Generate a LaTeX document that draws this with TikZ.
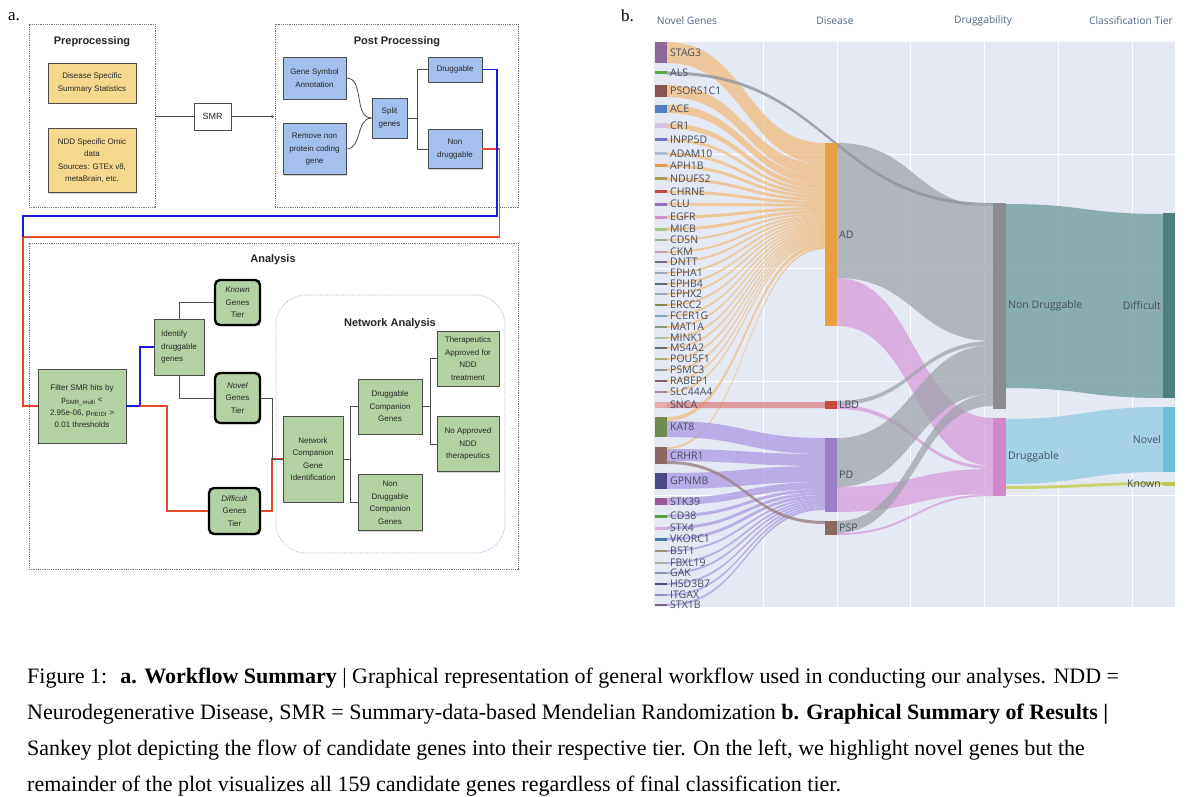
\documentclass[tikz,border=0pt]{standalone}
\usepackage{fontspec}
\setmainfont{Liberation Serif}
\newfontfamily\boxfont{Liberation Sans}
\newfontfamily\plotfont{Open Sans}
\usetikzlibrary{positioning,shadows,arrows.meta}

\definecolor{preyellow}{HTML}{F6D98C}
\definecolor{postblue}{HTML}{A4C0EC}
\definecolor{anagreen}{HTML}{B4D1A4}
\definecolor{linkblue}{HTML}{1A1AE6}
\definecolor{linkred}{HTML}{E8482C}
\definecolor{netdash}{HTML}{A9B9D3}
\definecolor{plotbg}{HTML}{E5E9F4}
\definecolor{plottext}{HTML}{454F5E}
\definecolor{plothead}{HTML}{506784}
\definecolor{adcol}{HTML}{E8A040}
\definecolor{lbdcol}{HTML}{C84A3A}
\definecolor{pdcol}{HTML}{9A7EC8}
\definecolor{pspcol}{HTML}{8A6A60}
\definecolor{ndcol}{HTML}{8C8C90}
\definecolor{dgcol}{HTML}{D088C8}
\definecolor{diffcol}{HTML}{4E7E7E}
\definecolor{novcol}{HTML}{6EC0D8}
\definecolor{knowncol}{HTML}{C0C850}

% sankey band: x0, top0, bottom0, x1, top1, bottom1, style
\newcommand{\sflow}[7]{%
  \fill[#7] (#1,#2) .. controls ({(#1+#4)/2},#2) and ({(#1+#4)/2},#5) .. (#4,#5)
    -- (#4,#6) .. controls ({(#1+#4)/2},#6) and ({(#1+#4)/2},#3) .. (#1,#3) -- cycle;}

\begin{document}
\begin{tikzpicture}[x=1pt,y=-1pt,
  box/.style={draw=black!70,line width=.6pt,align=center,text=black!85,
    font=\boxfont\fontsize{8}{12.5}\selectfont,inner sep=1pt,
    drop shadow={shadow xshift=1.2pt,shadow yshift=-1.4pt,opacity=.35}},
  prebox/.style={box,fill=preyellow,minimum width=88pt},
  postbox/.style={box,fill=postblue},
  anabox/.style={box,fill=anagreen},
  tierbox/.style={anabox,draw=black,line width=2.4pt,rounded corners=5pt},
  dashgroup/.style={draw=black!55,dash pattern=on 1.2pt off 1pt,line width=.7pt},
  netgroup/.style={draw=netdash,dash pattern=on 1pt off 1.3pt,line width=.8pt,rounded corners=30pt},
  grouptitle/.style={font=\boxfont\bfseries\fontsize{11}{13}\selectfont,text=black!85},
  conn/.style={draw=black!70,line width=.8pt},
  drugline/.style={draw=linkblue,line width=1.7pt},
  diffline/.style={draw=linkred,line width=1.7pt},
  paneltag/.style={anchor=base west,inner sep=0pt,font=\fontsize{17}{20}\selectfont},
  captext/.style={anchor=base west,inner sep=0pt,font=\fontsize{22}{26}\selectfont},
  plotgrid/.style={draw=white,line width=.9pt},
  sknode/.style={minimum width=12pt,inner sep=0pt,outer sep=0pt},
  sklabel/.style={font=\plotfont\fontsize{10.5}{11}\selectfont,text=plottext,inner sep=0pt},
  skhead/.style={font=\plotfont\fontsize{10.3}{11}\selectfont,text=plothead},
  adflow/.style={fill={rgb,255:red,240;green,190;blue,128},fill opacity=.75},
  pdflow/.style={fill={rgb,255:red,172;green,152;blue,224},fill opacity=.75},
  ndflow/.style={fill={rgb,255:red,160;green,164;blue,172},fill opacity=.75},
  dgflow/.style={fill={rgb,255:red,212;green,156;blue,216},fill opacity=.75},
  lbdflow/.style={fill={rgb,255:red,216;green,128;blue,128},fill opacity=.75},
  pspflow/.style={fill={rgb,255:red,154;green,128;blue,128},fill opacity=.8},
  alsflow/.style={fill={rgb,255:red,142;green,148;blue,158},fill opacity=.8},
  diffflow/.style={fill={rgb,255:red,122;green,162;blue,162},fill opacity=.85},
  novelflow/.style={fill={rgb,255:red,156;green,207;blue,228},fill opacity=.85},
  knownflow/.style={fill={rgb,255:red,200;green,208;blue,96},fill opacity=.9}]

\useasboundingbox (0,0) rectangle (1200,797);
\fill[white] (0,0) rectangle (1200,797);

%% a. workflow
\node[paneltag] (taga) at (8,21) {a.};

\node[dashgroup,minimum width=126pt,minimum height=183pt] (pre) at (92,115.5) {};
\node[grouptitle] (pretitle) at (92,42) {Preprocessing};
\node[prebox,minimum height=40pt] (dss) at (92,83) {Disease Specific\\Summary Statistics};
\node[prebox,minimum height=64pt,below=25pt of dss] (omic) {NDD Specific Omic\\data\\Sources: GTEx v8,\\metaBrain, etc.};

\node[box,fill=white,minimum width=37pt,minimum height=27pt,font=\boxfont\fontsize{9}{11}\selectfont] (smr) at (212.5,116.5) {SMR};

\node[dashgroup,minimum width=243pt,minimum height=183pt] (post) at (396.5,115.5) {};
\node[grouptitle] (posttitle) at (397,42) {Post Processing};
\node[postbox,minimum width=63pt,minimum height=42pt] (gsa) at (314.5,78) {Gene Symbol\\Annotation};
\node[postbox,minimum width=63pt,minimum height=51pt,below=24pt of gsa] (rmv) {Remove non\\protein coding\\gene};
\node[postbox,minimum width=35pt,minimum height=40pt] (split) at (389.5,118) {Split\\genes};
\node[postbox,minimum width=54pt,minimum height=25pt] (drug) at (455,69.5) {Druggable};
\node[postbox,minimum width=54pt,minimum height=39pt,below=47pt of drug] (nondrug) {Non\\druggable};

\node[dashgroup,minimum width=489pt,minimum height=326pt] (ana) at (273.5,406) {};
\node[grouptitle] (anatitle) at (273,260) {Analysis};
\node[anabox,minimum width=88pt,minimum height=74pt] (filt) at (82,406)
  {Filter SMR hits by\\p\textsubscript{SMR\_multi} <\\2.95e-06, p\textsubscript{HEIDI} >\\0.01 thresholds};
\node[anabox,minimum width=50pt,minimum height=56pt,align=left] (ident) at (179,347) {Identify\\druggable\\genes};
\node[tierbox,minimum width=45pt,minimum height=45pt] (known) at (237.5,302.5) {\textit{Known}\\Genes\\Tier};
\node[tierbox,minimum width=45pt,minimum height=50pt] (novel) at (237.5,398) {\textit{Novel}\\Genes\\Tier};
\node[tierbox,minimum width=51pt,minimum height=46pt] (diff) at (234.5,511) {\textit{Difficult}\\Genes\\Tier};

\node[netgroup,minimum width=229pt,minimum height=258pt] (net) at (390.5,424) {};
\node[grouptitle] (nettitle) at (390,324) {Network Analysis};
\node[anabox,minimum width=60pt,minimum height=86pt] (ncgi) at (313,459) {Network\\Companion\\Gene\\Identification};
\node[anabox,minimum width=64pt,minimum height=55pt] (dcg) at (390,406.5) {Druggable\\Companion\\Genes};
\node[anabox,minimum width=64pt,minimum height=56pt,below=40pt of dcg] (ndcg) {Non\\Druggable\\Companion\\Genes};
\node[anabox,minimum width=62pt,minimum height=55pt] (thera) at (468,358.5) {Therapeutics\\Approved for\\NDD\\treatment};
\node[anabox,minimum width=62pt,minimum height=55pt,below=30pt of thera] (noappr) {No Approved\\NDD\\therapeutics};

\draw[conn] (pre.east |- smr.west) -- (smr.west);
\draw[conn,-{Latex[length=3pt,width=3pt]}] (smr.east) -- (smr.east -| post.west);
\draw[conn] (gsa.east) to[out=0,in=180] (split.west);
\draw[conn] (rmv.east) to[out=0,in=180] (split.west);
\draw[conn] (split.east) -- ++(10,0) |- (drug.west);
\draw[conn] (split.east) -- ++(10,0) |- (nondrug.west);

\draw[diffline] (nondrug.east) -| (499.5,237) -- (23,237) |- (filt.west);
\draw[drugline] (drug.east) -| (497,216) -| (23,237);

\draw[drugline] (filt.east) -- ++(14,0) |- (ident.west);
\draw[diffline] ([xshift=14pt]filt.east) -- ++(27,0) |- (diff.west);
\draw[conn] (ident.north) |- (known.west);
\draw[conn] (ident.south) |- (novel.west);
\draw[diffline] (diff.east) -- ++(11,0) |- (ncgi.west);
\draw[conn] (novel.east) -- ++(11,0) |- (ncgi.west);
\draw[conn] (ncgi.east) -- ++(7,0) |- (dcg.west);
\draw[conn] (ncgi.east) -- ++(7,0) |- (ndcg.west);
\draw[conn] (dcg.east) -- ++(8,0) |- (thera.west);
\draw[conn] (dcg.east) -- ++(8,0) |- (noappr.west);

%% b. sankey
\node[paneltag] (tagb) at (621,22) {b.};
\fill[plotbg] (654,42) rectangle (1175,607);
\foreach \gx in {763,837,910,984,1058,1132}
  \draw[plotgrid] (\gx,42) -- (\gx,607);
\foreach \gy in {154,268,381,495}
  \draw[plotgrid] (654,\gy) -- (1175,\gy);

\node[skhead] (h1) at (687,21) {Novel Genes};
\node[skhead] (h2) at (835,21) {Disease};
\node[skhead] (h3) at (983,21) {Druggability};
\node[skhead] (h4) at (1131,21) {Classification Tier};

% genes into AD
\gdef\adcur{143}
\foreach \y/\h in {52.5/21,91/12,109/8,126/5,140/3,154/3,166/3,179/3,192/3,204/3,217/3,229/3,
    240/2,252/2,262/2,273/2,284/2,294/2,305/2,316/2,327/2,338/2,348/2,359/2,370/2,381/2,392/2,419/4,448/2}{
  \pgfmathsetmacro\adnext{\adcur+\h}
  \sflow{667}{\y-\h/2}{\y+\h/2}{825}{\adcur}{\adnext}{adflow}
  \xdef\adcur{\adnext}
}
% genes into PD
\gdef\pdcur{438}
\foreach \y/\h in {429/16,455/12,481/16,501.5/7,516/3,528/3,539/3,551/2,563/2,573/2,584/2,595/2,605/2}{
  \pgfmathsetmacro\pdnext{\pdcur+\h}
  \sflow{667}{\y-\h/2}{\y+\h/2}{825}{\pdcur}{\pdnext}{pdflow}
  \xdef\pdcur{\pdnext}
}
\sflow{667}{402}{408}{825}{402}{408}{lbdflow}
\sflow{667}{461}{464}{825}{521}{524}{pspflow}

% disease into druggability
\sflow{837}{143}{278}{993}{206}{341}{ndflow}
\sflow{837}{278}{326}{993}{418}{466}{dgflow}
\sflow{837}{401}{405}{993}{341}{345}{ndflow}
\sflow{837}{405}{409}{993}{466}{469}{dgflow}
\sflow{837}{438}{487}{993}{345}{394}{ndflow}
\sflow{837}{487}{512}{993}{469}{494}{dgflow}
\sflow{837}{521}{533}{993}{394}{406}{ndflow}
\sflow{837}{533}{535}{993}{494}{496}{dgflow}
\sflow{667}{71.5}{74.5}{993}{203}{206}{alsflow}

% druggability into tier
\sflow{1006}{204}{388}{1163}{214}{398}{diffflow}
\sflow{1006}{419}{484}{1163}{407}{472}{novelflow}
\sflow{1006}{486}{489}{1163}{482}{485}{knownflow}

\foreach \g/\y/\h/\c in {STAG3/52.5/21/8B6A9A,ALS/73/3/5AAA4A,PSORS1C1/91/12/8A5252,ACE/109/8/4F7FC0,
    CR1/126/5/D6C2E2,INPP5D/140/3/7272C8,ADAM10/154/3/A8BCD8,APH1B/166/3/E09A48,NDUFS2/179/3/A8A050,
    CHRNE/192/3/C04848,CLU/204/3/9070C0,EGFR/217/3/D490CC,MICB/229/3/A8C888,CDSN/240/2/98B098,
    CKM/252/2/C0A0A0,DNTT/262/2/707080,EPHA1/273/2/A0A8B8,EPHB4/284/2/606878,EPHX2/294/2/A0A8B8,
    ERCC2/305/2/888850,FCER1G/316/2/78A8C8,MAT1A/327/2/889878,MINK1/338/2/B0C0A8,MS4A2/348/2/687068,
    POU5F1/359/2/A8B080,PSMC3/370/2/909890,RABEP1/381/2/806070,SLC44A4/392/2/A08898,SNCA/405/6/E8A8B0,
    KAT8/427/20/6E8A4E,CRHR1/455.5/17/8A6A60,GPNMB/481/16/4A4888,STK39/501.5/7/9A5A9A,CD38/516/3/5AA040,
    STX4/528/3/D8B0D8,VKORC1/539/3/4878A8,BST1/551/2/A09078,FBXL19/563/2/A8B0A0,GAK/573/2/8898A8,
    HSD3B7/584/2/505070,ITGAX/595/2/9090B8,STX1B/605/2/806878}{
  \edef\setgenecol{\noexpand\definecolor{genecol}{HTML}{\c}}\setgenecol
  \fill[genecol] (655,\y-\h/2) rectangle (667,\y+\h/2);
  \node[sklabel,anchor=west] (g-\g) at (670,\y) {\g};
}

\node[sknode,fill=adcol,minimum height=183pt] (ad) at (831,234.5) {};
\node[sknode,fill=lbdcol,minimum height=8pt] (lbd) at (831,405) {};
\node[sknode,fill=pdcol,minimum height=74pt] (pd) at (831,475) {};
\node[sknode,fill=pspcol,minimum height=14pt] (psp) at (831,528) {};
\node[sklabel,right=2pt of ad] {AD};
\node[sklabel,right=2pt of lbd] {LBD};
\node[sklabel,right=2pt of pd] {PD};
\node[sklabel,right=2pt of psp] {PSP};

\node[sknode,fill=ndcol,minimum width=13pt,minimum height=206pt] (nd) at (999.5,306) {};
\node[sknode,fill=dgcol,minimum width=13pt,minimum height=78pt] (dg) at (999.5,457) {};
\node[sklabel,right=2pt of nd] {Non Druggable};
\node[sklabel,right=2pt of dg] {Druggable};

\node[sknode,fill=diffcol,minimum height=185pt] (tdiff) at (1169,305.5) {};
\node[sknode,fill=novcol,minimum height=65pt] (tnovel) at (1169,439.5) {};
\node[sknode,fill=knowncol,minimum height=4pt] (tknown) at (1169,484) {};
\node[sklabel,left=2pt of tdiff] {Difficult};
\node[sklabel,left=2pt of tnovel] {Novel};
\node[sklabel,left=2pt of tknown] {Known};

%% caption
\node[captext] (cap1) at (27,683) {Figure 1:\hspace{0.6em}\textbf{a. Workflow Summary} | Graphical representation of general workflow used in conducting our analyses. NDD =};
\node[captext] (cap2) at (27,719) {Neurodegenerative Disease, SMR = Summary-data-based Mendelian Randomization \textbf{b. Graphical Summary of Results |}};
\node[captext] (cap3) at (27,755) {Sankey plot depicting the flow of candidate genes into their respective tier. On the left, we highlight novel genes but the};
\node[captext] (cap4) at (27,791) {remainder of the plot visualizes all 159 candidate genes regardless of final classification tier.};
\end{tikzpicture}
\end{document}
